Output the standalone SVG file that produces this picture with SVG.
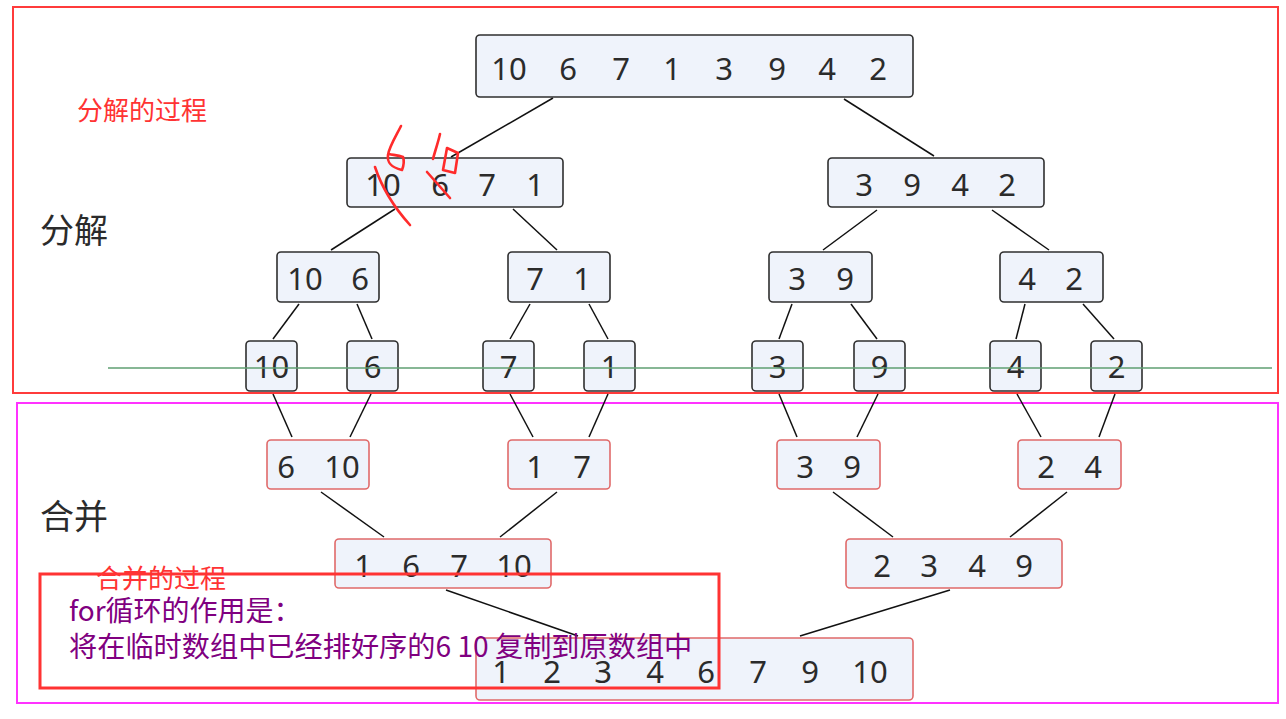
<svg xmlns="http://www.w3.org/2000/svg" width="1286" height="719" viewBox="0 0 1286 719">
<style>
.nd{fill:#eff3fb;stroke:#2f2f2f;stroke-width:1.6}
.mg{fill:#eff3fb;stroke:#e06a6a;stroke-width:1.6}
.num{font-family:"Noto Sans","DejaVu Sans",sans-serif;font-size:31px;fill:#2b2b2b;text-anchor:middle}
.cn{font-family:"Noto Sans CJK SC",sans-serif}
.e{stroke:#111;stroke-width:1.5;fill:none}
.hw{stroke:#ff2b2b;stroke-width:2.6;fill:none;stroke-linecap:round;stroke-linejoin:round}
</style>
<rect width="1286" height="719" fill="#ffffff"/>
<rect x="13" y="7" width="1265" height="386" fill="none" stroke="#ff3b3b" stroke-width="2"/>
<rect x="17" y="403" width="1261" height="300" fill="none" stroke="#ff33ff" stroke-width="2"/>
<g id="connectors">
<line class="e" x1="553" y1="98" x2="451" y2="157"/>
<line class="e" x1="844" y1="99" x2="934" y2="156"/>
<line class="e" x1="395" y1="209" x2="331" y2="250"/>
<line class="e" x1="513" y1="209" x2="557" y2="250"/>
<line class="e" x1="877" y1="210" x2="823" y2="250"/>
<line class="e" x1="992" y1="210" x2="1049" y2="250"/>
<line class="e" x1="299" y1="304" x2="273" y2="339"/>
<line class="e" x1="357" y1="304" x2="372" y2="339"/>
<line class="e" x1="530" y1="304" x2="510" y2="339"/>
<line class="e" x1="589" y1="304" x2="608" y2="339"/>
<line class="e" x1="792" y1="304" x2="779" y2="339"/>
<line class="e" x1="851" y1="304" x2="877" y2="339"/>
<line class="e" x1="1025" y1="304" x2="1016" y2="339"/>
<line class="e" x1="1083" y1="304" x2="1114" y2="339"/>
<line class="e" x1="273" y1="394" x2="292" y2="437"/>
<line class="e" x1="371" y1="394" x2="350" y2="437"/>
<line class="e" x1="510" y1="394" x2="533" y2="437"/>
<line class="e" x1="608" y1="394" x2="589" y2="437"/>
<line class="e" x1="779" y1="394" x2="797" y2="437"/>
<line class="e" x1="878" y1="394" x2="857" y2="437"/>
<line class="e" x1="1017" y1="394" x2="1041" y2="437"/>
<line class="e" x1="1115" y1="394" x2="1099" y2="437"/>
<line class="e" x1="321" y1="492" x2="384" y2="537"/>
<line class="e" x1="557" y1="492" x2="500" y2="537"/>
<line class="e" x1="833" y1="492" x2="893" y2="537"/>
<line class="e" x1="1067" y1="492" x2="1010" y2="537"/>
<line class="e" x1="446" y1="590" x2="578" y2="636"/>
<line class="e" x1="950" y1="590" x2="800" y2="636"/>
</g>
<g id="n0"><rect class="nd" x="476" y="35" width="437" height="62" rx="4"/>
<text class="num" y="80"><tspan x="509">10</tspan><tspan x="568">6</tspan><tspan x="621">7</tspan><tspan x="672">1</tspan><tspan x="724">3</tspan><tspan x="777">9</tspan><tspan x="827">4</tspan><tspan x="878">2</tspan></text></g>
<g id="n1"><rect class="nd" x="347" y="158" width="216" height="49" rx="4"/>
<text class="num" y="196"><tspan x="383">10</tspan><tspan x="440">6</tspan><tspan x="487">7</tspan><tspan x="535">1</tspan></text></g>
<g id="n2"><rect class="nd" x="828" y="158" width="216" height="49" rx="4"/>
<text class="num" y="196"><tspan x="864">3</tspan><tspan x="912">9</tspan><tspan x="960">4</tspan><tspan x="1007">2</tspan></text></g>
<g id="n3"><rect class="nd" x="277" y="252" width="102" height="50" rx="4"/>
<text class="num" y="290"><tspan x="305">10</tspan><tspan x="360">6</tspan></text></g>
<g id="n4"><rect class="nd" x="508" y="252" width="102" height="50" rx="4"/>
<text class="num" y="290"><tspan x="535">7</tspan><tspan x="582">1</tspan></text></g>
<g id="n5"><rect class="nd" x="769" y="252" width="103" height="50" rx="4"/>
<text class="num" y="290"><tspan x="797">3</tspan><tspan x="845">9</tspan></text></g>
<g id="n6"><rect class="nd" x="1000" y="252" width="103" height="50" rx="4"/>
<text class="num" y="290"><tspan x="1027">4</tspan><tspan x="1074">2</tspan></text></g>
<g id="n7"><rect class="nd" x="246" y="341" width="51" height="50" rx="4"/><text class="num" x="271.5" y="378">10</text></g>
<g id="n8"><rect class="nd" x="347" y="341" width="51" height="50" rx="4"/><text class="num" x="372.5" y="378">6</text></g>
<g id="n9"><rect class="nd" x="483" y="341" width="51" height="50" rx="4"/><text class="num" x="508.5" y="378">7</text></g>
<g id="n10"><rect class="nd" x="584" y="341" width="51" height="50" rx="4"/><text class="num" x="609.5" y="378">1</text></g>
<g id="n11"><rect class="nd" x="752" y="341" width="51" height="50" rx="4"/><text class="num" x="777.5" y="378">3</text></g>
<g id="n12"><rect class="nd" x="854" y="341" width="51" height="50" rx="4"/><text class="num" x="879.5" y="378">9</text></g>
<g id="n13"><rect class="nd" x="990" y="341" width="51" height="50" rx="4"/><text class="num" x="1015.5" y="378">4</text></g>
<g id="n14"><rect class="nd" x="1091" y="341" width="51" height="50" rx="4"/><text class="num" x="1116.5" y="378">2</text></g>
<g id="m1"><rect class="mg" x="267" y="440" width="102" height="49" rx="4"/>
<text class="num" y="478"><tspan x="286">6</tspan><tspan x="342">10</tspan></text></g>
<g id="m2"><rect class="mg" x="508" y="440" width="102" height="49" rx="4"/>
<text class="num" y="478"><tspan x="535">1</tspan><tspan x="582">7</tspan></text></g>
<g id="m3"><rect class="mg" x="777" y="440" width="103" height="49" rx="4"/>
<text class="num" y="478"><tspan x="805">3</tspan><tspan x="852">9</tspan></text></g>
<g id="m4"><rect class="mg" x="1018" y="440" width="103" height="49" rx="4"/>
<text class="num" y="478"><tspan x="1046">2</tspan><tspan x="1093">4</tspan></text></g>
<g id="m5"><rect class="mg" x="335" y="539" width="216" height="49" rx="4"/>
<text class="num" y="577"><tspan x="363">1</tspan><tspan x="411">6</tspan><tspan x="459">7</tspan><tspan x="514">10</tspan></text></g>
<g id="m6"><rect class="mg" x="846" y="539" width="216" height="49" rx="4"/>
<text class="num" y="577"><tspan x="882">2</tspan><tspan x="929">3</tspan><tspan x="977">4</tspan><tspan x="1024">9</tspan></text></g>
<g id="m7"><rect class="mg" x="476" y="638" width="437" height="62" rx="4"/>
<text class="num" y="683"><tspan x="501">1</tspan><tspan x="552">2</tspan><tspan x="603">3</tspan><tspan x="655">4</tspan><tspan x="706">6</tspan><tspan x="758">7</tspan><tspan x="810">9</tspan><tspan x="870">10</tspan></text></g>
<line x1="108" y1="368" x2="1272" y2="368" stroke="#5f9f72" stroke-width="1.6"/>
<text class="cn" x="40" y="243" font-size="34" fill="#2b2b2b">分解</text>
<text class="cn" x="40" y="529" font-size="34" fill="#2b2b2b">合并</text>
<text class="cn" x="77" y="120" font-size="26" fill="#ff3333">分解的过程</text>
<text class="cn" x="96" y="588" font-size="26" fill="#ff3333">合并的过程</text>
<rect x="40" y="574" width="679" height="114" fill="none" stroke="#ff3333" stroke-width="3"/>
<text class="cn" x="69" y="621" font-size="28" fill="#800080">for循环的作用是：</text>
<text class="cn" x="69" y="657" font-size="28.2" fill="#800080">将在临时数组中已经排好序的6 10 复制到原数组中</text>
<g id="handwriting">
<path class="hw" d="M401,126 C396,136 389,147 388,155 C387,162 390,167 402,170 C404,165 404,160 403,157 C398,155 393,155 389,154"/>
<path class="hw" d="M375,167 C381,185 392,205 410,225"/>
<path class="hw" d="M440,134 C438,143 435,151 433,159"/>
<path class="hw" d="M447,148 L458,153 L455,173 L443,170 Z"/>
<path class="hw" d="M427,172 C435,181 443,190 450,198"/>
</g>
</svg>
